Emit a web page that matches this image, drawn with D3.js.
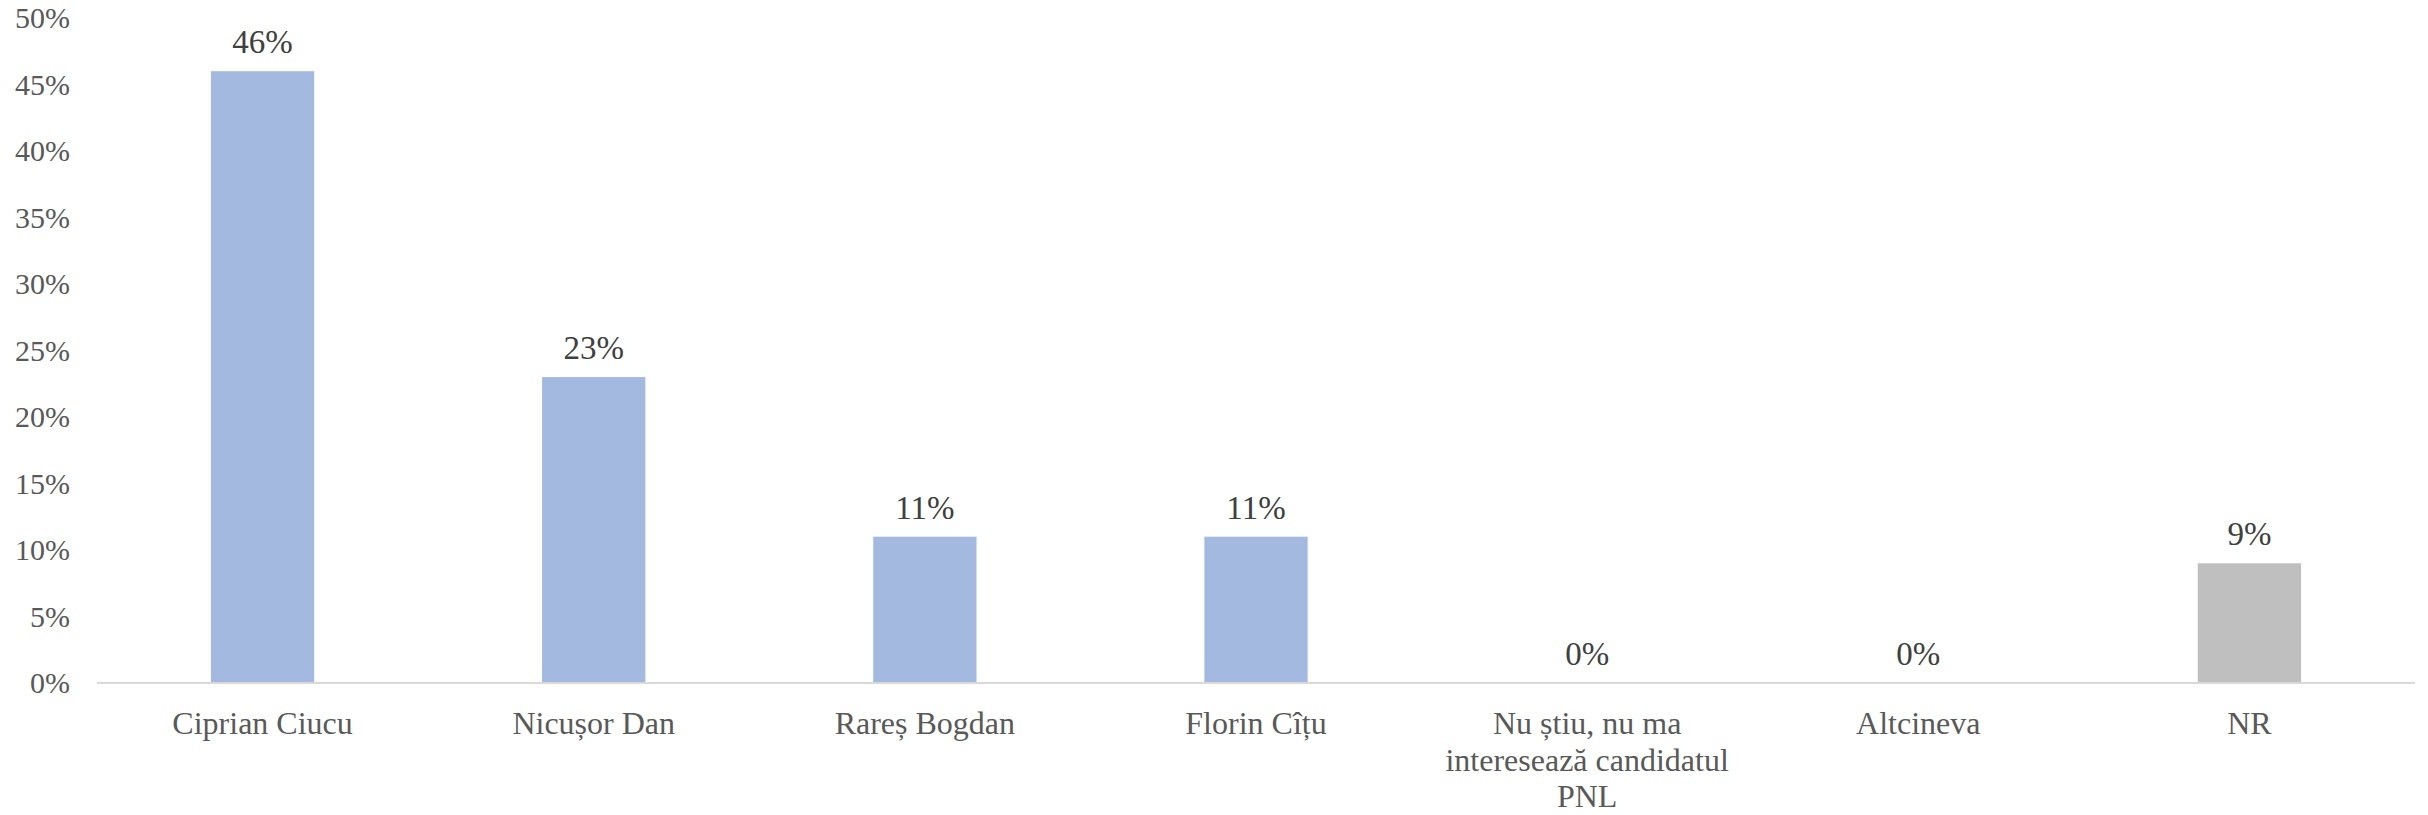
<!DOCTYPE html>
<html><head><meta charset="utf-8">
<script src="https://cdn.jsdelivr.net/npm/d3@7"></script>
<style>
html,body{margin:0;padding:0;background:#fff;}
svg{display:block;}
text{font-family:"Liberation Serif","Times New Roman",serif;}
</style></head>
<body>
<svg id="chart" width="2428" height="815"></svg>
<script>
const categories = ["Ciprian Ciucu","Nicușor Dan","Rareș Bogdan","Florin Cîțu","Nu știu, nu ma\ninteresează candidatul\nPNL","Altcineva","NR"];
const values = [46, 23, 11, 11, 0, 0, 9];
const barColors = ["#A3B9E0","#A3B9E0","#A3B9E0","#A3B9E0","#A3B9E0","#A3B9E0","#BFBFBF"];
const yTicks = [0,5,10,15,20,25,30,35,40,45,50];

const svg = d3.select("#chart");
const m = {left:97, right:13, top:18, bottom:132};
const W = 2428, H = 815;
const x = d3.scaleBand().domain(categories).range([m.left, W - m.right]).paddingInner(0.688).paddingOuter(0.344);
const y = d3.scaleLinear().domain([0,50]).range([H - m.bottom, m.top]);

// y axis labels
const ya = svg.append("g").attr("transform", `translate(${m.left},0)`)
  .call(d3.axisLeft(y).tickValues(yTicks).tickFormat(d => d + "%").tickSize(0).tickPadding(27));
ya.select(".domain").remove();
ya.selectAll("text").attr("font-size", 30).attr("fill", "#595959")
  .style("font-family", '"Liberation Serif",serif');

// bars
svg.append("g").selectAll("rect").data(values).join("rect")
  .attr("x", (d,i) => x(categories[i]))
  .attr("width", x.bandwidth())
  .attr("y", d => y(d))
  .attr("height", d => y(0) - y(d))
  .attr("fill", (d,i) => barColors[i]);

// baseline
svg.append("line").attr("x1", m.left).attr("x2", W - m.right)
  .attr("y1", y(0)).attr("y2", y(0)).attr("stroke", "#D9D9D9").attr("stroke-width", 2);

// data labels
svg.append("g").selectAll("text").data(values).join("text")
  .attr("x", (d,i) => x(categories[i]) + x.bandwidth()/2)
  .attr("y", d => y(d) - 18)
  .attr("text-anchor", "middle").attr("font-size", 33).attr("fill", "#404040")
  .text(d => d + "%");

// category labels
const cl = svg.append("g").selectAll("text").data(categories).join("text")
  .attr("x", d => x(d) + x.bandwidth()/2)
  .attr("y", y(0) + 51)
  .attr("text-anchor", "middle").attr("font-size", 32).attr("fill", "#595959");
cl.each(function(d){
  const t = d3.select(this);
  d.split("\n").forEach((line, k) => {
    t.append("tspan").attr("x", x(d) + x.bandwidth()/2).attr("dy", k === 0 ? 0 : 36.5).text(line);
  });
});
</script>
</body></html>
